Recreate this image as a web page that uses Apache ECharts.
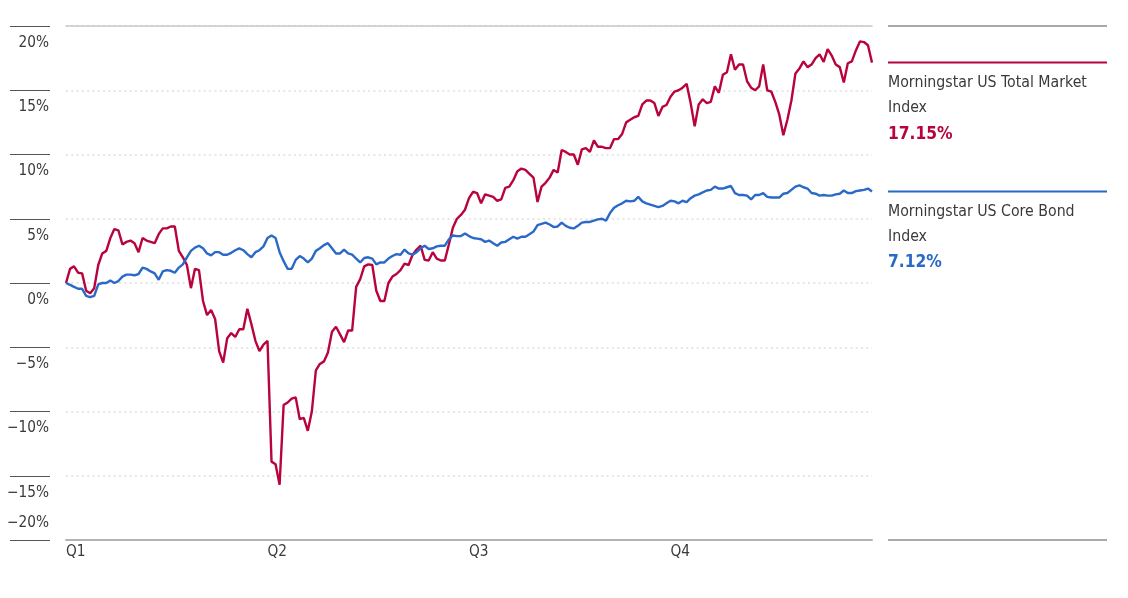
<!DOCTYPE html>
<html>
<head>
<meta charset="utf-8">
<script src="https://cdn.jsdelivr.net/npm/echarts@6/dist/echarts.min.js"></script>
<style>
  html, body { margin: 0; padding: 0; background: #fff; }
  #chart { width: 1128px; height: 598px; }
</style>
</head>
<body>
<div id="chart"></div>
<script>
// ---- data (cumulative return, %) ----
const quarterLabels = ['Q1', 'Q2', 'Q3', 'Q4'];
const pointsPerQuarter = 50;
const seriesNames = ['Morningstar US Total Market Index', 'Morningstar US Core Bond Index'];
const legendLines = [['Morningstar US Total Market', 'Index'], ['Morningstar US Core Bond', 'Index']];

const totalMarket = [
  0, 1.1, 1.3, 0.8, 0.75, -0.6, -0.8, -0.4, 1.4, 2.3,
  2.5, 3.5, 4.2, 4.1, 3.0, 3.2, 3.3, 3.1, 2.4, 3.5,
  3.3, 3.2, 3.1, 3.8, 4.25, 4.25, 4.4, 4.4, 2.5, 2.0,
  1.4, -0.4, 1.1, 1.0, -1.4, -2.5, -2.1, -2.8, -5.3, -6.2,
  -4.3, -3.9, -4.2, -3.6, -3.6, -2.0, -3.2, -4.5, -5.3, -4.8,
  -4.5, -13.9, -14.1, -15.7, -9.5, -9.3, -9.0, -8.9, -10.6, -10.5,
  -11.5, -10.0, -6.8, -6.3, -6.1, -5.4, -3.8, -3.4, -4.0, -4.6,
  -3.7, -3.7, -0.3, 0.3, 1.3, 1.45, 1.4, -0.6, -1.4, -1.4,
  0.0, 0.5, 0.7, 1.0, 1.5, 1.4, 2.2, 2.6, 2.9, 1.8,
  1.75, 2.4, 1.9, 1.75, 1.75, 3.0, 4.3, 5.0, 5.3, 5.7,
  6.6, 7.1, 7.0, 6.2, 6.9, 6.8, 6.7, 6.4, 6.5, 7.4,
  7.5, 8.0, 8.7, 8.9, 8.8, 8.5, 8.2, 6.3, 7.5, 7.8,
  8.2, 8.8, 8.6, 10.35, 10.2, 10.0, 10.0, 9.2, 10.4, 10.5,
  10.2, 11.1, 10.6, 10.6, 10.5, 10.5, 11.2, 11.2, 11.6, 12.5,
  12.7, 12.9, 13.0, 13.9, 14.2, 14.2, 14.0, 13.0, 13.7, 13.85,
  14.5, 14.9, 15.0, 15.2, 15.5, 14.0, 12.2, 13.9, 14.3, 14.0,
  14.1, 15.3, 14.8, 16.2, 16.4, 17.8, 16.6, 17.0, 17.0, 15.7,
  15.2, 15.0, 15.3, 17.0, 15.0, 14.9, 14.1, 13.1, 11.5, 12.7,
  14.2, 16.3, 16.7, 17.25, 16.8, 17.0, 17.5, 17.8, 17.2, 18.2,
  17.7, 17.0, 16.8, 15.6, 17.1, 17.25, 18.1, 18.8, 18.75, 18.5,
  17.15
];

const coreBond = [
  0, -0.15, -0.3, -0.45, -0.45, -1.0, -1.1, -1.0, -0.1, 0.0,
  0.0, 0.2, 0.0, 0.15, 0.5, 0.65, 0.65, 0.6, 0.7, 1.2,
  1.1, 0.9, 0.75, 0.25, 0.9, 1.0, 0.95, 0.8, 1.2, 1.45,
  2.0, 2.5, 2.75, 2.9, 2.7, 2.3, 2.15, 2.4, 2.4, 2.2,
  2.2, 2.35, 2.55, 2.7, 2.55, 2.25, 2.0, 2.4, 2.55, 2.85,
  3.5, 3.7, 3.5, 2.4, 1.7, 1.1, 1.1, 1.8, 2.1, 1.9,
  1.6, 1.9, 2.5, 2.7, 2.95, 3.1, 2.7, 2.3, 2.3, 2.6,
  2.3, 2.2, 1.9, 1.6, 1.95, 2.0, 1.9, 1.45, 1.6, 1.6,
  1.9, 2.1, 2.25, 2.2, 2.6, 2.3, 2.2, 2.4, 2.7, 2.9,
  2.65, 2.7, 2.85, 2.9, 2.9, 3.4, 3.7, 3.65, 3.65, 3.85,
  3.65, 3.5, 3.45, 3.4, 3.2, 3.3, 3.1, 2.9, 3.15, 3.2,
  3.4, 3.6, 3.45, 3.6, 3.6, 3.8, 4.0, 4.5, 4.6, 4.7,
  4.55, 4.35, 4.4, 4.7, 4.45, 4.3, 4.25, 4.45, 4.7, 4.75,
  4.75, 4.85, 4.95, 5.0, 4.85, 5.45, 5.85, 6.05, 6.2, 6.4,
  6.35, 6.4, 6.7, 6.35, 6.2, 6.1, 6.0, 5.9, 6.0, 6.2,
  6.4, 6.35, 6.2, 6.4, 6.3, 6.6, 6.8, 6.9, 7.05, 7.2,
  7.25, 7.5, 7.35, 7.35, 7.45, 7.55, 7.0, 6.85, 6.85, 6.8,
  6.5, 6.85, 6.85, 7.0, 6.7, 6.65, 6.65, 6.65, 6.95, 7.0,
  7.25, 7.5, 7.6, 7.45, 7.35, 7.0, 6.95, 6.8, 6.85, 6.8,
  6.8, 6.9, 6.95, 7.2, 7.0, 7.0, 7.15, 7.2, 7.25, 7.35,
  7.12
];

const categories = totalMarket.map((_, i) => 'd' + i);
const yMin = -20, yMax = 20, yStep = 5;

// ---- font choice: first installed condensed face ----
function hasFont(name) {
  const c = document.createElement('canvas').getContext('2d');
  const s = 'Morningstar US Total Market 0123456789%';
  const res = ['monospace', 'serif'].map(fb => {
    c.font = '40px ' + fb;
    const w0 = c.measureText(s).width;
    c.font = '40px "' + name + '", ' + fb;
    return c.measureText(s).width !== w0;
  });
  return res[0] || res[1];
}
const candidates = ['Liberation Sans Narrow', 'DejaVu Sans Condensed', 'Roboto Condensed', 'Roboto', 'Liberation Sans'];
const FACE = candidates.find(hasFont) || 'sans-serif';
const FONT = '"' + FACE + '", sans-serif';
// size the face so the legend line spans the same width as in the source (~199px)
const measureCtx = document.createElement('canvas').getContext('2d');
measureCtx.font = '100px ' + FONT;
const w100 = measureCtx.measureText(legendLines[0][0]).width;
const LEGEND_SIZE = Math.max(14, Math.min(19, 100 * 199 / w100));
const AXIS_SIZE = Math.max(13, LEGEND_SIZE - 0.5);

// ---- styling ----
const RED = '#B8033C';
const BLUE = '#2A69C7';
const TEXT = '#3a3a3a';
const LABEL_SHIFT = 17;

const chart = echarts.init(document.getElementById('chart'), null, { renderer: 'canvas' });

function fmtPct(v) {
  return (v < 0 ? '\u2212' : '') + Math.abs(v) + '%';
}

chart.setOption({
  animation: false,
  backgroundColor: '#fff',
  grid: { left: 66, right: 256, top: 26, bottom: 58, containLabel: false, outerBoundsMode: 'none' },
  xAxis: [
    {
      type: 'category',
      data: categories,
      boundaryGap: false,
      position: 'bottom',
      axisLine: { show: true, onZero: false, lineStyle: { color: '#b4b4b4', width: 2 } },
      axisTick: { show: false },
      splitLine: { show: false },
      axisLabel: {
        show: true,
        interval: (index) => index % pointsPerQuarter === 0 && index < quarterLabels.length * pointsPerQuarter,
        formatter: (value, index) => quarterLabels[Math.round(index / pointsPerQuarter)] || '',
        align: 'left',
        margin: 5,
        color: TEXT,
        fontFamily: FONT,
        fontSize: AXIS_SIZE
      }
    },
    {
      type: 'category',
      data: categories,
      boundaryGap: false,
      position: 'top',
      axisLine: { show: true, onZero: false, lineStyle: { color: '#c8c8c8', width: 1.5 } },
      axisTick: { show: false },
      axisLabel: { show: false },
      splitLine: { show: false }
    }
  ],
  yAxis: {
    type: 'value',
    min: yMin,
    max: yMax,
    interval: yStep,
    position: 'left',
    offset: 16,
    axisLine: { show: false },
    axisTick: { show: true, length: 40, lineStyle: { color: '#555', width: 1.2 } },
    splitLine: { show: true, lineStyle: { color: '#dedede', width: 1.5, type: [2, 3.3] } },
    axisLabel: {
      showMinLabel: true,
      showMaxLabel: true,
      hideOverlap: false,
      margin: 1,
      color: TEXT,
      fontFamily: FONT,
      fontSize: AXIS_SIZE,
      verticalAlign: 'middle',
      formatter: (v) => v === yMin ? '{up|' + fmtPct(v) + '}' : '{dn|' + fmtPct(v) + '}',
      rich: {
        dn: { fontFamily: FONT, fontSize: AXIS_SIZE, color: TEXT, padding: [2 * LABEL_SHIFT, 0, 0, 0] },
        up: { fontFamily: FONT, fontSize: AXIS_SIZE, color: TEXT, padding: [0, 0, 2 * LABEL_SHIFT, 0] }
      }
    }
  },
  series: [
    {
      name: seriesNames[0],
      type: 'line',
      data: totalMarket,
      showSymbol: false,
      symbol: 'none',
      lineStyle: { color: RED, width: 2.4 },
      itemStyle: { color: RED },
      z: 2
    },
    {
      name: seriesNames[1],
      type: 'line',
      data: coreBond,
      showSymbol: false,
      symbol: 'none',
      lineStyle: { color: BLUE, width: 2.4 },
      itemStyle: { color: BLUE },
      z: 3
    }
  ]
});

// ---- right-hand labels positioned through the chart's own scale ----
const lx0 = 888, lx1 = 1107;
const yTopPx = chart.convertToPixel({ yAxisIndex: 0 }, yMax);
const yBotPx = chart.convertToPixel({ yAxisIndex: 0 }, yMin);
const seriesData = [totalMarket, coreBond];
const colors = [RED, BLUE];
const elements = [
  { type: 'line', shape: { x1: lx0, y1: yTopPx, x2: lx1, y2: yTopPx }, style: { stroke: '#555', lineWidth: 1.2 } },
  { type: 'line', shape: { x1: lx0, y1: yBotPx, x2: lx1, y2: yBotPx }, style: { stroke: '#555', lineWidth: 1.2 } }
];
seriesData.forEach((d, k) => {
  const last = d[d.length - 1];
  const py = chart.convertToPixel({ yAxisIndex: 0 }, last);
  elements.push({
    type: 'line',
    shape: { x1: lx0, y1: py, x2: lx1, y2: py },
    style: { stroke: colors[k], lineWidth: 2 }
  });
  elements.push({
    type: 'text',
    x: lx0,
    y: py + 8,
    style: {
      text: '{n|' + legendLines[k][0] + '}\n{n|' + legendLines[k][1] + '}\n{v|' + last.toFixed(2) + '%}',
      rich: {
        n: { fontFamily: FONT, fontSize: LEGEND_SIZE, lineHeight: 25, fill: TEXT },
        v: { fontFamily: FONT, fontSize: LEGEND_SIZE + 1.5, fontWeight: 'bold', lineHeight: 27, fill: colors[k] }
      },
      align: 'left',
      verticalAlign: 'top'
    }
  });
});
chart.setOption({ graphic: { elements: elements } });
</script>
</body>
</html>
